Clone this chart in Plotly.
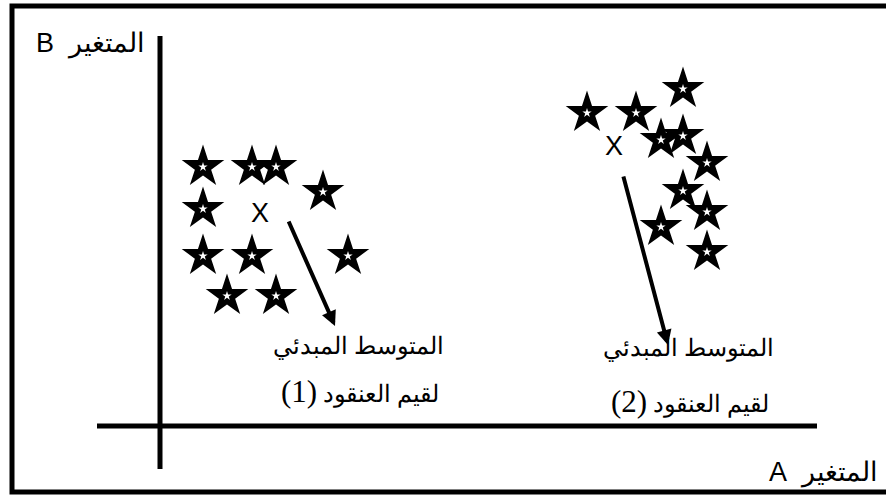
import plotly.graph_objects as go

# Variable A / Variable B values of the points (two clusters)
cluster1_a = [4.3, 9.2, 11.6, 16.3, 4.3, 4.3, 9.2, 18.8, 6.7, 11.6]
cluster1_b = [25.9, 25.9, 25.9, 23.4, 21.7, 17.0, 17.0, 17.0, 13.0, 13.0]

cluster2_a = [42.7, 47.6, 52.3, 52.3, 50.1, 54.7, 52.3, 54.7, 50.1, 54.7]
cluster2_b = [31.3, 31.3, 33.7, 29.0, 28.6, 26.3, 23.5, 21.4, 19.9, 17.4]

# initial means (X markers)
centroid_a = [10.0, 45.4]
centroid_b = [21.1, 27.8]

# arrows: tail -> tip
arrow_tail_a = [12.8, 46.3]
arrow_tail_b = [20.6, 25.1]
arrow_tip_a = [17.5, 50.8]
arrow_tip_b = [10.0, 8.1]

label_line1 = ["المتوسط المبدئي", "المتوسط المبدئي"]
cluster_ids = ["(1)", "(2)"]
label_line2 = "لقيم العنقود"
label1_a = [19.8, 52.8]
label1_b = [8.0, 7.8]
label2_a = [20.0, 53.0]
label2_b = [3.5, 2.5]

axis_a_label = "A\u00a0\u00a0المتغير"
axis_b_label = "B\u00a0\u00a0المتغير"

all_a = cluster1_a + cluster2_a
all_b = cluster1_b + cluster2_b

fig = go.Figure()

# black stars
fig.add_trace(go.Scatter(
    x=all_a, y=all_b, mode="markers",
    marker=dict(symbol="star", size=32, color="black", line=dict(width=0)),
    hoverinfo="skip", showlegend=False,
))
# small white star in the middle
fig.add_trace(go.Scatter(
    x=all_a, y=all_b, mode="markers",
    marker=dict(symbol="star", size=7, color="white", line=dict(width=0)),
    hoverinfo="skip", showlegend=False,
))
# X = initial cluster mean
fig.add_trace(go.Scatter(
    x=centroid_a, y=centroid_b, mode="text", text=["X", "X"],
    textposition="middle center",
    textfont=dict(family="Liberation Sans, Arial", size=27, color="black"),
    hoverinfo="skip", showlegend=False,
))

# arrows
for tx, ty, hx, hy in zip(arrow_tail_a, arrow_tail_b, arrow_tip_a, arrow_tip_b):
    fig.add_annotation(
        x=hx, y=hy, ax=tx, ay=ty, xref="x", yref="y", axref="x", ayref="y",
        text="", showarrow=True, arrowhead=2, arrowsize=0.75, arrowwidth=4,
        arrowcolor="black", standoff=0, startstandoff=0,
    )

serif = dict(family="Liberation Serif, Times New Roman, serif", size=24, color="black")
for t, x, y in zip(label_line1, label1_a, label1_b):
    fig.add_annotation(x=x, y=y, xref="x", yref="y", text=t, showarrow=False, font=serif)
for cid, x, y in zip(cluster_ids, label2_a, label2_b):
    txt = '<span style="font-size:31px">' + cid + '</span> ' + label_line2
    fig.add_annotation(x=x, y=y, xref="x", yref="y", text=txt, showarrow=False, font=serif)

sans = dict(family="Liberation Sans, Arial, sans-serif", size=27, color="black")
fig.add_annotation(x=-7.0, y=38.3, xref="x", yref="y", text=axis_b_label, showarrow=False, font=sans)
fig.add_annotation(x=66.3, y=-4.6, xref="x", yref="y", text=axis_a_label, showarrow=False, font=sans)

# axes drawn as thick lines
fig.add_shape(type="line", x0=0, x1=0, y0=-4.3, y1=39, xref="x", yref="y",
              line=dict(color="black", width=5))
fig.add_shape(type="line", x0=-6.3, x1=65.7, y0=0, y1=0, xref="x", yref="y",
              line=dict(color="black", width=5))

# outer frame
fig.add_shape(type="rect", x0=12 / 886, x1=1.02, y0=1 - 492 / 495, y1=1 - 6 / 495,
              xref="paper", yref="paper", line=dict(color="black", width=5),
              fillcolor="rgba(0,0,0,0)")

fig.update_xaxes(range=[-16, 72.6], visible=False, fixedrange=True)
fig.update_yaxes(range=[-6.9, 42.6], visible=False, fixedrange=True)
fig.update_layout(
    width=886, height=495,
    margin=dict(l=0, r=0, t=0, b=0),
    paper_bgcolor="white", plot_bgcolor="white",
    showlegend=False,
)

fig.write_html("out.html", config={"displayModeBar": False},
               post_script="document.body.style.margin='0';")
